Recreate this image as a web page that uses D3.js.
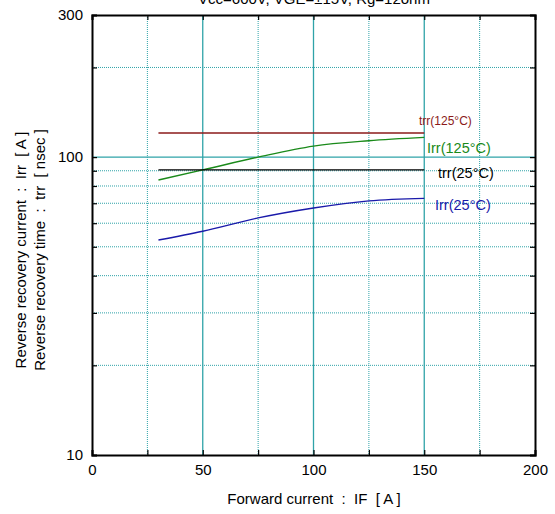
<!DOCTYPE html>
<html><head><meta charset="utf-8">
<script src="https://cdn.jsdelivr.net/npm/d3@7"></script>
<style>body{margin:0;background:#fff}svg{display:block;font-family:"Liberation Sans",Arial,sans-serif}text{white-space:pre}</style>
</head><body><svg id="c" width="555" height="514"></svg>
<script>
const title = "Vcc=600V, VGE=±15V, Rg=12ohm";
const xTicks = [0, 50, 100, 150, 200];
const xMinor = [25, 75, 125, 175];
const yTickLabels = [10, 100, 300];
const yMinor = [20, 30, 40, 50, 60, 70, 80, 90, 200];
const ifVals = [30, 50, 75, 100, 125, 150];
const irr125 = [83.8, 90.6, 100, 108.9, 113.5, 116.5];
const irr25 = [52.7, 56.4, 62.5, 67.5, 71.3, 72.7];
const trr125 = [120.5, 120.5];
const trr25 = [90.6, 90.6];
const trrX = [30, 150];
const seriesNames = ["trr(125°C)", "Irr(125°C)", "trr(25°C)", "Irr(25°C)"];

const svg = d3.select("#c");
const L = 92, R = 535, T = 15, B = 455;
const x = d3.scaleLinear().domain([0, 200]).range([L, R]);
const y = d3.scaleLog().domain([10, 300]).range([B, T]);
const grid = "#2fa3a8";

// minor grid (dotted)
svg.append("g").selectAll("line").data(xMinor).join("line")
  .attr("x1", d => x(d)).attr("x2", d => x(d)).attr("y1", T).attr("y2", B)
  .attr("stroke", grid).attr("stroke-width", 1).attr("stroke-dasharray", "1,1");
svg.append("g").selectAll("line").data(yMinor).join("line")
  .attr("y1", d => y(d)).attr("y2", d => y(d)).attr("x1", L).attr("x2", R)
  .attr("stroke", grid).attr("stroke-width", 1).attr("stroke-dasharray", "1,1");
// major grid (solid)
svg.append("g").selectAll("line").data([50, 100, 150]).join("line")
  .attr("x1", d => x(d)).attr("x2", d => x(d)).attr("y1", T).attr("y2", B)
  .attr("stroke", grid).attr("stroke-width", 1.3);
svg.append("g").selectAll("line").data([100]).join("line")
  .attr("y1", d => y(d)).attr("y2", d => y(d)).attr("x1", L).attr("x2", R)
  .attr("stroke", grid).attr("stroke-width", 1.3);

// axes
const xAxB = d3.axisBottom(x).tickValues(d3.range(0, 201, 25)).tickSize(-5).tickPadding(9)
  .tickFormat(d => xTicks.includes(d) ? d : "");
const gx = svg.append("g").attr("transform", `translate(0,${B})`).call(xAxB);
const gxt = svg.append("g").attr("transform", `translate(0,${T})`)
  .call(d3.axisTop(x).tickValues(d3.range(0, 201, 25)).tickSize(-5).tickFormat(""));
const yAll = yTickLabels.concat(yMinor);
const gy = svg.append("g").attr("transform", `translate(${L},0)`)
  .call(d3.axisLeft(y).tickValues(yAll).tickSize(-5).tickPadding(9)
    .tickFormat(d => yTickLabels.includes(d) ? d : ""));
const gyr = svg.append("g").attr("transform", `translate(${R},0)`)
  .call(d3.axisRight(y).tickValues(yAll).tickSize(-5).tickFormat(""));
[gx, gxt, gy, gyr].forEach(g => {
  g.select(".domain").attr("stroke", "#000").attr("stroke-width", 2);
  g.selectAll(".tick line").attr("stroke", "#000").attr("stroke-width", 1.2);
  g.selectAll("text").attr("font-size", 15).attr("fill", "#000")
    .attr("font-family", "Liberation Sans, Arial, sans-serif");
});

// lines
const line = d3.line().x(d => x(d[0])).y(d => y(d[1])).curve(d3.curveMonotoneX);
const series = [
  {v: d3.zip(trrX, trr125), c: "#8b1a1a"},
  {v: d3.zip(ifVals, irr125), c: "#1a8a1a"},
  {v: d3.zip(trrX, trr25), c: "#000"},
  {v: d3.zip(ifVals, irr25), c: "#1a1aaa"}
];
svg.append("g").selectAll("path").data(series).join("path")
  .attr("d", d => line(d.v)).attr("fill", "none")
  .attr("stroke", d => d.c).attr("stroke-width", 1.4);

// series labels
const labels = [
  {t: seriesNames[0], x: 419, y: 125, s: 12, c: "#8b1a1a"},
  {t: seriesNames[1], x: 427, y: 153, s: 14.5, c: "#1a8a1a"},
  {t: seriesNames[2], x: 438, y: 178, s: 14.5, c: "#000"},
  {t: seriesNames[3], x: 435, y: 210, s: 14.5, c: "#1a1aaa"}
];
svg.append("g").selectAll("text").data(labels).join("text")
  .attr("x", d => d.x).attr("y", d => d.y).attr("font-size", d => d.s)
  .attr("fill", d => d.c).text(d => d.t);

// title (cut off at top, as in the reference)
svg.append("text").attr("x", 314).attr("y", 4).attr("text-anchor", "middle")
  .attr("font-size", 15).text(title);

// axis titles
svg.append("text").attr("x", 314).attr("y", 504).attr("text-anchor", "middle")
  .attr("font-size", 15).text("Forward current  :  IF  [ A ]");
svg.append("text").attr("transform", "translate(26,250) rotate(-90)")
  .attr("text-anchor", "middle").attr("font-size", 15)
  .text("Reverse recovery current  :  Irr  [ A ]");
svg.append("text").attr("transform", "translate(45,250) rotate(-90)")
  .attr("text-anchor", "middle").attr("font-size", 15)
  .text("Reverse recovery time  :  trr  [ nsec ]");
</script></body></html>
